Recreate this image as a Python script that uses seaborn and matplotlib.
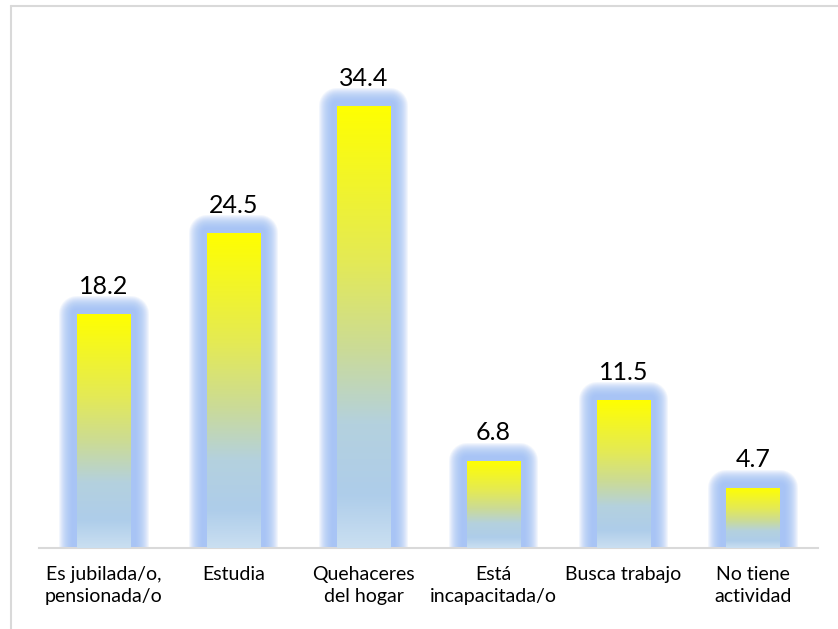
import numpy as np
import matplotlib
matplotlib.use("Agg")
import matplotlib.pyplot as plt
import matplotlib.patheffects as pe
from matplotlib.lines import Line2D
import seaborn as sns

# data
categories = ["Es jubilada/o,\npensionada/o", "Estudia", "Quehaceres\ndel hogar",
              "Está\nincapacitada/o", "Busca trabajo", "No tiene\nactividad"]
values = [18.2, 24.5, 34.4, 6.8, 11.5, 4.7]
value_labels = ["18.2", "24.5", "34.4", "6.8", "11.5", "4.7"]

# gradient stops, top -> bottom
grad_stops = [0.0, 0.35, 0.55, 0.72, 0.88, 1.0]
grad_colors = [(255, 255, 0), (228, 234, 85), (203, 219, 150),
               (180, 209, 222), (174, 205, 234), (202, 223, 241)]
glow_color = "#9dbef5"

# Setting styles
sns.set_theme(style="white")
plt.rcParams["font.family"] = ["Lato", "DejaVu Sans"]

fig = plt.figure(figsize=(8.38, 6.29), dpi=100)
ax = fig.add_axes([39 / 838, 1 - 548 / 629, (818 - 39) / 838, (548 - 34) / 629])

sns.barplot(x=categories, y=values, width=0.41, color="#c8dcee",
            saturation=1, ax=ax, zorder=2)

# gradient column
n = 256
pos = np.linspace(0, 1, n)
rgb = np.stack([np.interp(pos, grad_stops, [c[i] / 255 for c in grad_colors])
                for i in range(3)], axis=-1)
grad = rgb.reshape(n, 1, 3)

# soft glow around each bar: stacked translucent strokes
px = 72 / 100
glow = [pe.withStroke(linewidth=2 * ext * px, foreground=glow_color,
                      alpha=0.13, joinstyle="round")
        for ext in range(18, 4, -1)]
glow.append(pe.Normal())

for patch in ax.patches:
    patch.set_path_effects(glow)
    patch.set_edgecolor("none")
    x0 = patch.get_x()
    w = patch.get_width()
    h = patch.get_height()
    im = ax.imshow(grad, extent=[x0, x0 + w, 0, h], aspect="auto",
                   origin="upper", zorder=3, interpolation="bilinear")
    im.set_clip_path(patch)

# value labels
for i, (v, lab) in enumerate(zip(values, value_labels)):
    ax.annotate(lab, (i, v), xytext=(0, 14.5), textcoords="offset points",
                ha="center", va="baseline", fontsize=18, color="#000000")

ax.set_xlim(-0.5, len(categories) - 0.5)
ax.set_ylim(0, 40)
ax.set_yticks([])
ax.set_ylabel("")
for s in ["left", "right", "top"]:
    ax.spines[s].set_visible(False)
ax.spines["bottom"].set_color("#d9d9d9")
ax.spines["bottom"].set_linewidth(1.5)
ax.tick_params(axis="x", length=0, pad=13, labelsize=14, colors="#000000")
for t in ax.get_xticklabels():
    t.set_multialignment("center")
    t.set_linespacing(1.35)

# outer frame (left and top edges)
fig.add_artist(Line2D([10.5 / 838, 10.5 / 838], [0, 1 - 6 / 629],
                      transform=fig.transFigure, color="#d9d9d9", lw=1.5))
fig.add_artist(Line2D([10.5 / 838, 1], [1 - 6 / 629, 1 - 6 / 629],
                      transform=fig.transFigure, color="#d9d9d9", lw=1.5))

fig.savefig("out.png", dpi=100)
